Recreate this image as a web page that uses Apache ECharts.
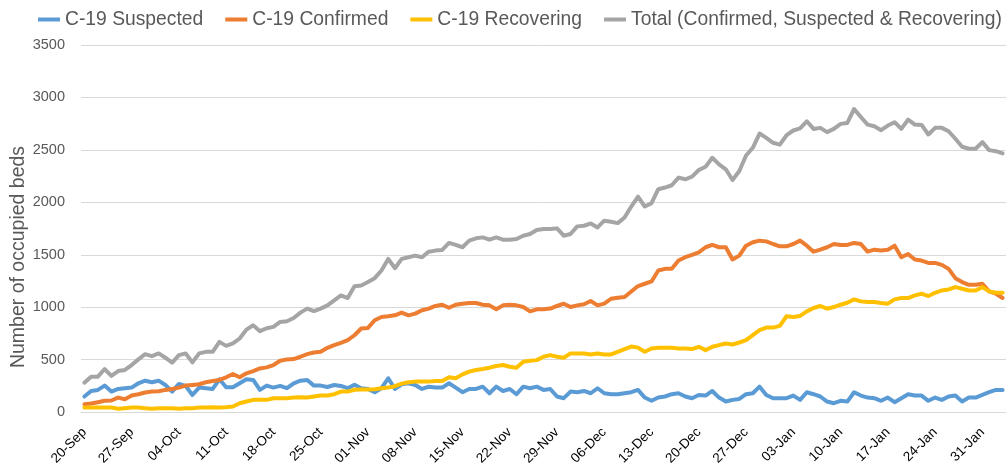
<!DOCTYPE html>
<html>
<head>
<meta charset="utf-8">
<script src="https://cdn.jsdelivr.net/npm/echarts@6/dist/echarts.min.js"></script>
<style>
html,body{margin:0;padding:0;background:#fff;}
#chart{width:1006px;height:468px;}
</style>
</head>
<body>
<div id="chart"></div>
<script>
// Daily categories: 20-Sep-2020 .. 03-Feb-2021 (137 days)
const startDate = Date.UTC(2020, 8, 20);
const dayCount = 137;
const monthNames = ['Jan','Feb','Mar','Apr','May','Jun','Jul','Aug','Sep','Oct','Nov','Dec'];
const categories = [];
for (let i = 0; i < dayCount; i++) {
  const d = new Date(startDate + i * 86400000);
  categories.push(String(d.getUTCDate()).padStart(2, '0') + '-' + monthNames[d.getUTCMonth()]);
}

const seriesNames = ['C-19 Suspected', 'C-19 Confirmed', 'C-19 Recovering', 'Total (Confirmed, Suspected & Recovering)'];

const suspected = [
  149,202,212,253,196,221,228,234,275,300,285,300,259,196,269,250,164,234,228,221,313,237,237,275,313,307,212,253,
  234,250,228,275,300,307,253,253,240,259,250,228,262,228,221,190,228,323,221,266,275,259,221,243,234,234,
  275,234,190,221,221,243,180,243,202,221,171,243,228,243,212,221,149,133,196,190,202,180,228,180,171,171,180,
  190,212,139,108,139,149,171,180,149,133,164,158,202,139,101,117,126,171,180,243,164,133,133,133,158,117,190,
  171,149,101,85,108,101,190,158,139,133,108,139,95,133,171,158,158,108,139,117,149,158,101,139,139,164,190,212,212
];

const confirmed = [
  76,82,95,108,111,139,123,158,171,187,196,199,212,221,234,253,259,266,285,297,307,332,364,332,370,392,417,427,
  449,490,503,506,528,553,569,575,613,639,661,686,733,797,803,876,907,914,923,949,923,939,971,987,1012,1024,
  995,1024,1034,1040,1040,1024,1018,980,1018,1024,1018,1002,961,980,980,987,1012,1034,1002,1018,1028,1059,1018,1034,1081,1091,1097,
  1150,1202,1224,1246,1350,1366,1366,1445,1477,1499,1524,1572,1594,1572,1572,1455,1492,1587,1619,1635,1628,1603,1581,1581,1603,1635,1587,
  1530,1549,1572,1603,1594,1594,1613,1603,1530,1549,1540,1549,1587,1477,1508,1455,1445,1423,1423,1404,1366,1277,1240,1214,1214,1224,1151,1129,1088
];

const recovering = [
  44,44,44,44,44,32,38,44,44,38,32,38,38,38,32,38,38,44,44,47,44,47,54,85,101,117,117,117,
  133,133,133,139,142,139,149,158,158,171,196,196,213,215,215,218,228,234,247,272,285,291,291,291,297,297,
  333,323,360,386,402,411,424,440,449,433,424,481,490,496,528,544,528,519,560,560,560,550,560,550,550,575,600,
  625,615,575,607,613,613,613,607,607,601,623,591,623,639,655,645,664,686,734,781,806,806,822,914,908,917,961,
  993,1012,986,1002,1024,1043,1075,1056,1050,1050,1040,1034,1075,1088,1088,1113,1129,1107,1138,1160,1170,1192,1176,1160,1160,1192,1151,1138,1138
];

const total = [
  281,338,338,411,345,392,402,449,503,553,534,560,519,471,544,560,474,560,575,575,670,632,655,702,787,828,772,800,
  813,860,866,898,949,987,964,987,1018,1066,1113,1088,1200,1208,1240,1277,1350,1461,1372,1461,1477,1492,1477,1530,1540,1546,
  1613,1594,1572,1635,1657,1666,1644,1666,1644,1644,1651,1682,1698,1736,1745,1745,1752,1682,1698,1771,1777,1799,1761,1825,1815,1802,1856,
  1960,2055,1960,1992,2125,2141,2163,2236,2220,2245,2308,2340,2425,2362,2315,2213,2299,2447,2520,2656,2615,2568,2550,2640,2685,2705,2773,
  2700,2710,2669,2700,2748,2757,2890,2814,2741,2726,2688,2732,2764,2700,2789,2741,2738,2647,2710,2710,2678,2606,2530,2511,2511,2574,2498,2488,2466
];

const yTicks = { min: 0, max: 3500, interval: 500 };
const yTitle = 'Number of occupied beds';

const colors = ['#5B9BD5', '#ED7D31', '#FFC000', '#A5A5A5'];
const font = '"Liberation Sans", Arial, sans-serif';
const textColor = '#595959';

const chart = echarts.init(document.getElementById('chart'), null, { renderer: 'canvas' });

function lineSeries(name, data, color) {
  return {
    name: name,
    type: 'line',
    data: data,
    symbol: 'none',
    smooth: false,
    lineStyle: { width: 4, color: color, cap: 'round', join: 'round' },
    itemStyle: { color: color },
    emphasis: { disabled: true }
  };
}

chart.setOption({
  animation: false,
  backgroundColor: '#ffffff',
  color: colors,
  textStyle: { fontFamily: font },
  legend: {
    left: 38,
    top: 10,
    width: 968,
    padding: 0,
    icon: 'rect',
    itemWidth: 22,
    itemHeight: 4,
    itemGap: 22,
    textStyle: { fontSize: 19.3, color: textColor, fontFamily: font },
    data: seriesNames
  },
  grid: { left: 81, right: -7, top: 45, bottom: 54 },
  xAxis: {
    type: 'category',
    data: categories,
    boundaryGap: true,
    axisLine: { show: true, lineStyle: { color: '#D9D9D9', width: 1 } },
    axisTick: { show: false },
    axisLabel: {
      interval: 6,
      rotate: 45,
      margin: 18,
      fontSize: 13.5,
      color: '#000000',
      fontFamily: font
    },
    splitLine: { show: false }
  },
  yAxis: {
    type: 'value',
    min: yTicks.min,
    max: yTicks.max,
    interval: yTicks.interval,
    axisLine: { show: false },
    axisTick: { show: false },
    axisLabel: {
      fontSize: 14.5,
      color: textColor,
      margin: 16,
      fontFamily: font,
      formatter: function (v) { return String(v); }
    },
    splitLine: { lineStyle: { color: '#D9D9D9', width: 1 } }
  },
  graphic: [{
    type: 'text',
    x: 19,
    y: 257,
    rotation: Math.PI / 2,
    style: {
      text: yTitle,
      fontSize: 19.5,
      fontFamily: font,
      fill: textColor,
      align: 'center',
      verticalAlign: 'middle'
    }
  }],
  series: [
    lineSeries(seriesNames[0], suspected, colors[0]),
    lineSeries(seriesNames[1], confirmed, colors[1]),
    lineSeries(seriesNames[2], recovering, colors[2]),
    lineSeries(seriesNames[3], total, colors[3])
  ]
});
</script>
</body>
</html>
